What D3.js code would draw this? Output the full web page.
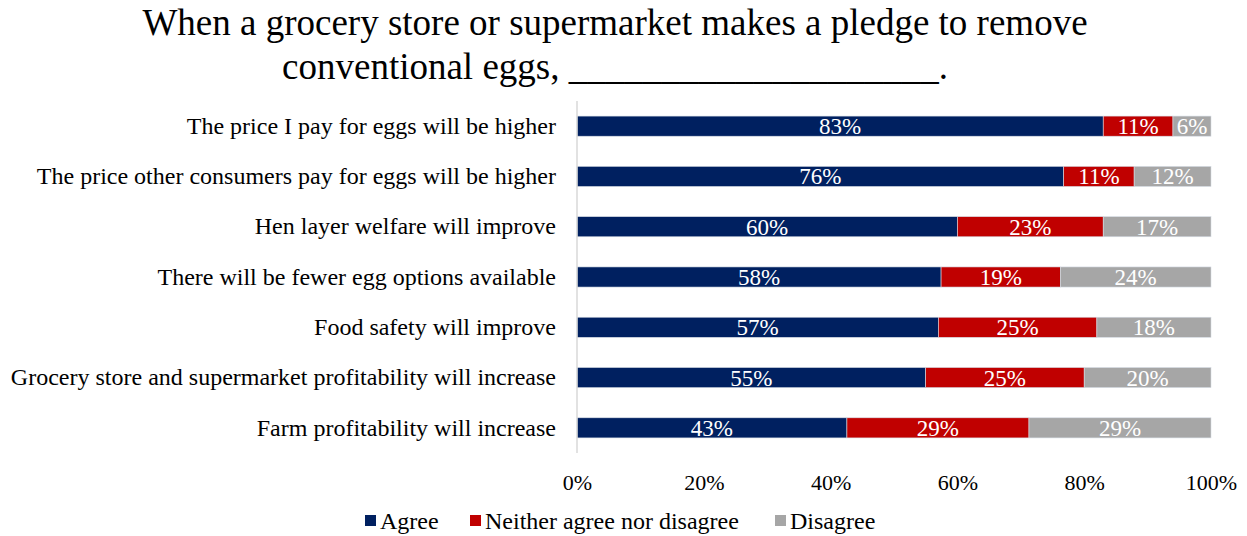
<!DOCTYPE html>
<html>
<head>
<meta charset="utf-8">
<script src="https://cdn.jsdelivr.net/npm/d3@7"></script>
<style>
  html, body { margin: 0; padding: 0; background: #fff; }
  svg { display: block; }
  text { font-family: "Liberation Serif", "Times New Roman", serif; }
</style>
</head>
<body>
<svg id="chart" width="1247" height="536"></svg>
<script>
// Survey statements (top to bottom)
const categories = [
  "The price I pay for eggs will be higher",
  "The price other consumers pay for eggs will be higher",
  "Hen layer welfare will improve",
  "There will be fewer egg options available",
  "Food safety will improve",
  "Grocery store and supermarket profitability will increase",
  "Farm profitability will increase"
];
const seriesNames = ["Agree", "Neither agree nor disagree", "Disagree"];
const agree    = [83, 76, 60, 58, 57, 55, 43];
const neither  = [11, 11, 23, 19, 25, 25, 29];
const disagree = [6, 12, 17, 24, 18, 20, 29];
const tickValues = [0, 0.2, 0.4, 0.6, 0.8, 1.0];
const colors = ["#002060", "#C00000", "#A6A6A6"];

const titleLines = [
  "When a grocery store or supermarket makes a pledge to remove",
  "conventional eggs, ____________________."
];

const svg = d3.select("#chart");
const margin = { left: 577, right: 36, top: 101, bottom: 83 };
const W = 1247, H = 536;

const rows = categories.map((c, i) => ({
  category: c,
  [seriesNames[0]]: agree[i],
  [seriesNames[1]]: neither[i],
  [seriesNames[2]]: disagree[i]
}));

// 100% stacked layout
const stacked = d3.stack().keys(seriesNames).offset(d3.stackOffsetExpand)(rows);

const x = d3.scaleLinear().domain([0, 1]).range([margin.left, W - margin.right]);
const y = d3.scaleBand().domain(categories).range([margin.top, H - margin.bottom])
  .paddingInner(0.6).paddingOuter(0.3);
const color = d3.scaleOrdinal().domain(seriesNames).range(colors);

// Title
svg.append("g").selectAll("text").data(titleLines).join("text")
  .attr("x", 615).attr("y", (d, i) => 35 + i * 44)
  .attr("text-anchor", "middle")
  .attr("font-size", 37).attr("fill", "#000")
  .text(d => d);

// Bars
const layer = svg.append("g").selectAll("g").data(stacked).join("g")
  .attr("fill", d => color(d.key));
layer.selectAll("rect").data(d => d).join("rect")
  .attr("x", d => x(d[0]))
  .attr("y", d => y(d.data.category))
  .attr("width", d => x(d[1]) - x(d[0]))
  .attr("height", y.bandwidth())
  .attr("stroke", "#d6dce5").attr("stroke-width", 0.6);

// Value labels
svg.append("g").selectAll("g").data(stacked).join("g")
  .selectAll("text").data(d => d.map(p => ({ p, key: d.key }))).join("text")
  .attr("x", d => (x(d.p[0]) + x(d.p[1])) / 2)
  .attr("y", d => y(d.p.data.category) + y.bandwidth() / 2)
  .attr("dy", "0.35em")
  .attr("text-anchor", "middle")
  .attr("font-size", 23).attr("fill", "#fff")
  .text(d => d.p.data[d.key] + "%");

// Vertical category axis line
svg.append("line")
  .attr("x1", x(0)).attr("x2", x(0))
  .attr("y1", margin.top).attr("y2", H - margin.bottom)
  .attr("stroke", "#d9d9d9").attr("stroke-width", 1.5);

// Category labels
const yAxis = svg.append("g").attr("transform", `translate(${x(0) - 21},0)`)
  .call(d3.axisLeft(y).tickSize(0).tickPadding(0));
yAxis.select(".domain").remove();
yAxis.selectAll("text").attr("font-size", 24).attr("fill", "#000")
  .attr("font-family", "Liberation Serif, Times New Roman, serif");

// Percent axis
const xAxis = svg.append("g").attr("transform", `translate(0,${H - margin.bottom})`)
  .call(d3.axisBottom(x).tickValues(tickValues).tickFormat(d3.format(".0%")).tickSize(0).tickPadding(21));
xAxis.select(".domain").remove();
xAxis.selectAll("text").attr("font-size", 22).attr("fill", "#000")
  .attr("font-family", "Liberation Serif, Times New Roman, serif");

// Legend
const legendX = [365, 470, 775];
const legend = svg.append("g").selectAll("g").data(seriesNames).join("g")
  .attr("transform", (d, i) => `translate(${legendX[i]},521)`);
legend.append("rect").attr("x", 0).attr("y", -6).attr("width", 11).attr("height", 11)
  .attr("fill", d => color(d));
legend.append("text").attr("x", 15).attr("y", 0).attr("dy", "0.35em")
  .attr("font-size", 24).attr("fill", "#000").text(d => d);
</script>
</body>
</html>
